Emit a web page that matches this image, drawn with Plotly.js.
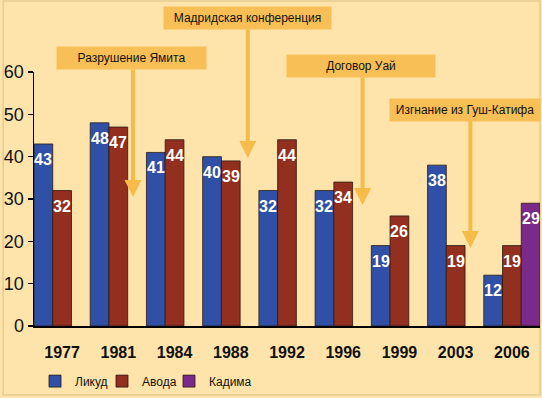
<!DOCTYPE html>
<html>
<head>
<meta charset="utf-8">
<script src="https://cdn.plot.ly/plotly-3.0.1.min.js"></script>
<style>html,body{margin:0;padding:0;background:#FEE4AA;}</style>
</head>
<body>
<div id="chart" style="width:542px;height:398px;"></div>
<script>
// ---- data ----
const years = ['1977','1981','1984','1988','1992','1996','1999','2003','2006'];
const likud = [43, 48, 41, 40, 32, 32, 19, 38, 12];
const avoda = [32, 47, 44, 39, 44, 34, 26, 19, 19];
const kadima = [null, null, null, null, null, null, null, null, 29];
const seriesNames = ['Ликуд', 'Авода', 'Кадима'];

// events (annotations): text, box position (category units), arrow position, arrow tip value
const eventTexts = ['Разрушение Ямита', 'Мадридская конференция', 'Договор Уай', 'Изгнание из Гуш-Катифа'];
const eventBoxX = [1.234, 3.294, 5.309, 7.173];
const eventArrowX = [1.261, 3.303, 5.344, 7.262];
const eventTipY = [30.5, 39.7, 28.6, 18.4];
const eventTailY = [60.9, 70.4, 59.1, 48.9];
const eventBoxY = [1.055, 1.213, 1.024, 0.852];
const eventBoxW = [147, 165, 146, 148];

const colors = ['#2F50A6', '#922F1E', '#7A2A8A'];
const FONT = 'Arial, "Liberation Sans", sans-serif';
const legendIds = ['legend', 'legend2', 'legend3'];
const legendX = [0.002, 0.1344, 0.2668];
const seriesValues = [likud, avoda, kadima];
const groupOffsets = [-1/3, 0, 1/3];

function barTrace(i) {
  return {
    type: 'bar', name: seriesNames[i], x: years, y: seriesValues[i], legend: legendIds[i],
    marker: {color: colors[i], line: {color: '#2a1a12', width: 0.8}},
    hoverinfo: 'skip'
  };
}

const data = [barTrace(0), barTrace(1), barTrace(2)];

const annotations = [];
// value labels inside bar tops
seriesValues.forEach((vals, s) => {
  vals.forEach((v, i) => {
    if (v == null) return;
    annotations.push({
      xref: 'x', yref: 'y', x: i + groupOffsets[s], y: v, yanchor: 'top', xanchor: 'center',
      yshift: -5, text: String(v), showarrow: false,
      font: {family: FONT, size: 16, color: '#ffffff', weight: 'bold'}
    });
  });
});
for (let i = 0; i < eventTexts.length; i++) {
  annotations.push({
    xref: 'x', yref: 'paper', x: eventBoxX[i], y: eventBoxY[i],
    text: eventTexts[i], showarrow: false,
    width: eventBoxW[i], height: 20, bgcolor: '#F8BF56',
    font: {family: FONT, size: 12, color: '#111111'},
    xanchor: 'center', yanchor: 'middle'
  });
  annotations.push({
    xref: 'x', yref: 'y', x: eventArrowX[i], y: eventTipY[i],
    axref: 'x', ayref: 'y', ax: eventArrowX[i], ay: eventTailY[i],
    text: '', showarrow: true, arrowhead: 2, arrowsize: 0.85, arrowwidth: 4,
    arrowcolor: '#F6BC4A'
  });
}

function legendCfg(x) {
  return {orientation: 'h', x: x, xanchor: 'left', y: -0.217, yanchor: 'middle',
          font: {family: FONT, size: 12, color: '#111'}, bgcolor: 'rgba(0,0,0,0)'};
}

const layout = {
  width: 542, height: 398,
  margin: {l: 34, r: 2, t: 72, b: 72},
  paper_bgcolor: '#FEE4AA', plot_bgcolor: '#FEE4AA',
  barmode: 'group', bargap: 0, bargroupgap: 0,
  font: {family: FONT, color: '#000'},
  showlegend: true,
  legend: legendCfg(legendX[0]),
  legend2: legendCfg(legendX[1]),
  legend3: legendCfg(legendX[2]),
  xaxis: {type: 'category', range: [-0.5, 8.5], showline: true, linecolor: '#000', linewidth: 2,
          ticks: '', ticklabelstandoff: 11,
          tickfont: {family: FONT, size: 16, color: '#111', weight: 'bold'},
          showgrid: false, zeroline: false, fixedrange: true},
  yaxis: {range: [0, 60], dtick: 10, showline: true, linecolor: '#000', linewidth: 1.5,
          ticks: 'outside', ticklen: 5, tickwidth: 1.5, tickcolor: '#000',
          tickfont: {family: FONT, size: 18, color: '#111'},
          showgrid: false, zeroline: false, fixedrange: true},
  annotations: annotations,
  shapes: [{type: 'rect', xref: 'paper', yref: 'paper', x0: -0.061, x1: 1.0, y0: -0.272, y1: 1.28,
            line: {color: '#E6CC93', width: 1.5}, fillcolor: 'rgba(0,0,0,0)', layer: 'below'}]
};

Plotly.newPlot('chart', data, layout, {displayModeBar: false, staticPlot: true});
</script>
</body>
</html>
